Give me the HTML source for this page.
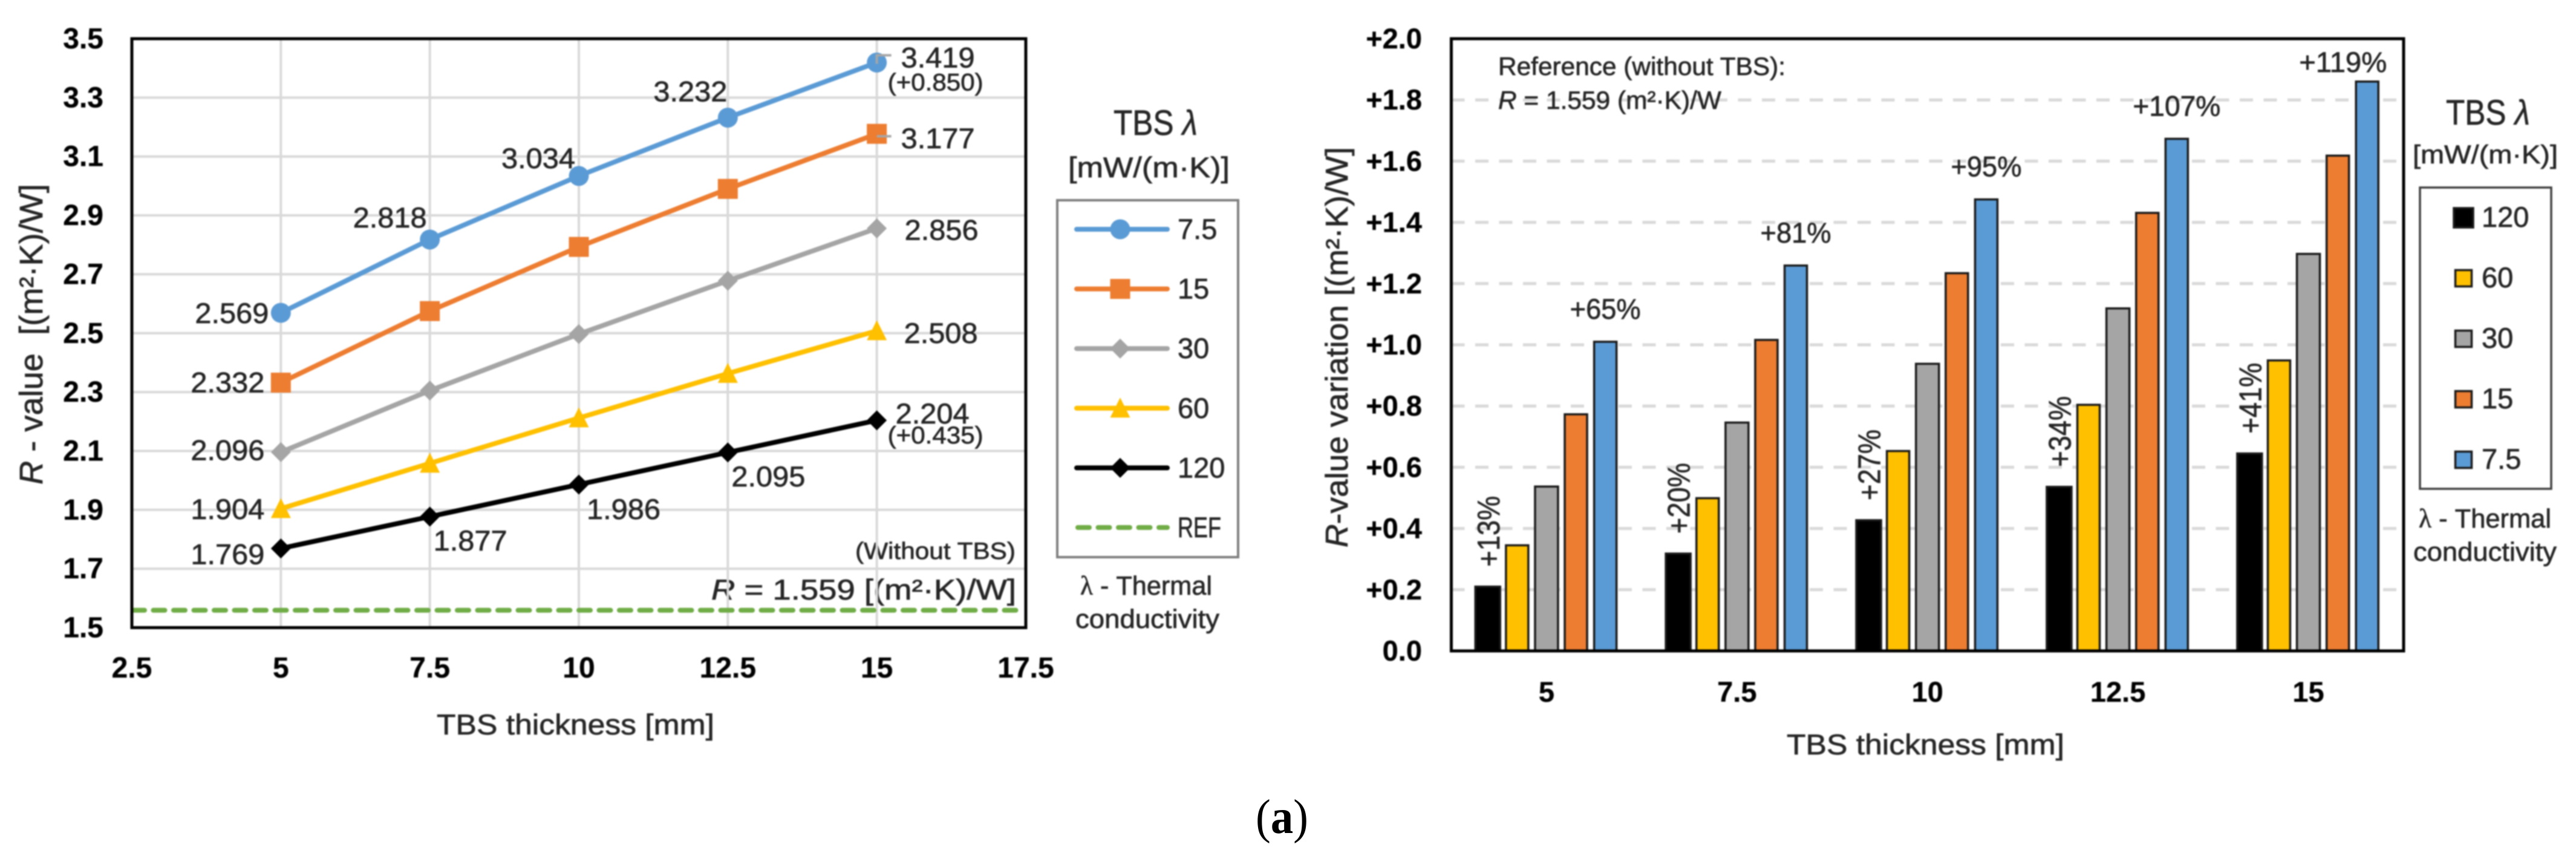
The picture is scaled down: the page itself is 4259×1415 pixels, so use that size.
<!DOCTYPE html>
<html lang="en">
<head>
<meta charset="utf-8">
<title>TBS R-value charts</title>
<style>
html,body{margin:0;padding:0;background:#fff;width:4259px;height:1415px;overflow:hidden}
svg{display:block}
text{font-family:"Liberation Sans",sans-serif;fill:#262626;stroke:#262626;stroke-width:.7px}
.b{font-weight:700;fill:#000;stroke:#000;stroke-width:.3px}
#charts{filter:blur(1px)}
</style>
</head>
<body>
<svg id="figure" xmlns="http://www.w3.org/2000/svg" width="4259" height="1415" viewBox="0 0 4259 1415">
<rect width="4259" height="1415" fill="#fff"/>
<g id="charts">
  <g id="left-chart">
    <text transform="translate(70 801) rotate(-90)" font-size="54" textLength="497" lengthAdjust="spacingAndGlyphs" xml:space="preserve"><tspan font-style="italic">R</tspan> - value  [(m²·K)/W]</text>
    <text x="722" y="1214" font-size="47" textLength="459" lengthAdjust="spacingAndGlyphs">TBS thickness [mm]</text>
    <text x="1414" y="924" font-size="39" textLength="265" lengthAdjust="spacingAndGlyphs">(Without TBS)</text>
    <text x="1176" y="991" font-size="47" textLength="504" lengthAdjust="spacingAndGlyphs"><tspan font-style="italic">R</tspan> = 1.559 [(m²·K)/W]</text>
    <text x="1841" y="223" font-size="58" textLength="139" lengthAdjust="spacingAndGlyphs">TBS <tspan font-style="italic">λ</tspan></text>
    <text x="1766" y="293" font-size="47" textLength="267" lengthAdjust="spacingAndGlyphs">[mW/(m·K)]</text>
    <text x="1786" y="983" font-size="44" textLength="218" lengthAdjust="spacingAndGlyphs"><tspan style="font-family:'Liberation Serif',serif">λ</tspan> - Thermal</text>
    <text x="1778" y="1038" font-size="44" textLength="238" lengthAdjust="spacingAndGlyphs">conductivity</text>
  </g>
  <g id="right-chart">
    <text transform="translate(2228 905) rotate(-90)" font-size="52" textLength="662" lengthAdjust="spacingAndGlyphs"><tspan font-style="italic">R</tspan>-value variation [(m²·K)/W]</text>
    <text x="2954" y="1247" font-size="47" textLength="459" lengthAdjust="spacingAndGlyphs">TBS thickness [mm]</text>
    <text x="4044" y="206" font-size="58" textLength="139" lengthAdjust="spacingAndGlyphs">TBS <tspan font-style="italic">λ</tspan></text>
    <text x="3989" y="270" font-size="43" textLength="240" lengthAdjust="spacingAndGlyphs">[mW/(m·K)]</text>
    <text x="3999" y="872" font-size="44" textLength="219" lengthAdjust="spacingAndGlyphs"><tspan style="font-family:'Liberation Serif',serif">λ</tspan> - Thermal</text>
    <text x="3990" y="927" font-size="44" textLength="237" lengthAdjust="spacingAndGlyphs">conductivity</text>
  </g>
</g>
<text x="2076" y="1377" style="font-family:'Liberation Serif',serif;fill:#000;stroke:none" font-size="80" textLength="87" lengthAdjust="spacingAndGlyphs">(<tspan font-weight="700">a</tspan>)</text>
</svg>
<script>
// ---- Left chart data ----
const thicknessLine = [5, 7.5, 10, 12.5, 15];
const seriesLambda75 = [2.569, 2.818, 3.034, 3.232, 3.419];
const seriesLambda15 = [2.332, 2.575, 2.793, 2.990, 3.177];
const seriesLambda30 = [2.096, 2.305, 2.497, 2.678, 2.856];
const seriesLambda60 = [1.904, 2.058, 2.212, 2.363, 2.508];
const seriesLambda120 = [1.769, 1.877, 1.986, 2.095, 2.204];
const referenceR = 1.559;
const deltaLabel75 = '(+0.850)';
const deltaLabel120 = '(+0.435)';
const leftYTicks = [1.5, 1.7, 1.9, 2.1, 2.3, 2.5, 2.7, 2.9, 3.1, 3.3, 3.5];
const leftXTicks = [2.5, 5, 7.5, 10, 12.5, 15, 17.5];

// ---- Right chart data ----
const thicknessCategories = ['5', '7.5', '10', '12.5', '15'];
const barsLambda120 = [0.210, 0.318, 0.427, 0.536, 0.645];
const barsLambda60 = [0.345, 0.499, 0.653, 0.804, 0.949];
const barsLambda30 = [0.537, 0.746, 0.938, 1.119, 1.297];
const barsLambda15 = [0.773, 1.016, 1.234, 1.431, 1.618];
const barsLambda75 = [1.010, 1.259, 1.475, 1.673, 1.860];
const percentLambda120 = ['+13%', '+20%', '+27%', '+34%', '+41%'];
const percentLambda75 = ['+65%', '+81%', '+95%', '+107%', '+119%'];
const rightYTicks = [0, 0.2, 0.4, 0.6, 0.8, 1.0, 1.2, 1.4, 1.6, 1.8, 2.0];
const rightYTickLabels = ['0.0', '+0.2', '+0.4', '+0.6', '+0.8', '+1.0', '+1.2', '+1.4', '+1.6', '+1.8', '+2.0'];

const NS = 'http://www.w3.org/2000/svg';
function el(tag, attrs, parent) {
  const e = document.createElementNS(NS, tag);
  for (const k in attrs) e.setAttribute(k, attrs[k]);
  parent.appendChild(e);
  return e;
}
function txt(str, attrs, parent) {
  const e = el('text', attrs, parent);
  e.textContent = str;
  return e;
}
function marker(kind, cx, cy, color, parent) {
  const r = 16.5;
  if (kind === 'circle') return el('ellipse', {cx: cx, cy: cy, rx: r, ry: r, fill: color}, parent);
  if (kind === 'square') return el('rect', {x: cx - r, y: cy - r, width: 2 * r, height: 2 * r, fill: color}, parent);
  if (kind === 'diamond') return el('polygon', {points: `${cx - r},${cy} ${cx},${cy - r} ${cx + r},${cy} ${cx},${cy + r}`, fill: color}, parent);
  return el('polygon', {points: `${cx},${cy - r - 1} ${cx + r},${cy + r - 1} ${cx - r},${cy + r - 1}`, fill: color}, parent);
}

// ===== LEFT CHART =====
const left = document.getElementById('left-chart');
const LX0 = 218, LX1 = 1696, LY0 = 1037.5, LY1 = 64;
const lx = v => LX0 + (v - 2.5) / 15 * (LX1 - LX0);
const ly = v => LY0 - (v - 1.5) / 2 * (LY0 - LY1);

leftYTicks.forEach(t => {
  if (t > 1.5 && t < 3.5) {
    const g = el('line', {x1: LX0, x2: LX1, y1: ly(t), y2: ly(t), stroke: '#d9d9d9', 'stroke-width': 4}, left);
    
    
  }
  const l = txt(t.toFixed(1), {x: 171, y: ly(t) + 16, 'font-size': 48, 'text-anchor': 'end', class: 'b'}, left);
  
  
});
leftXTicks.forEach(t => {
  if (t > 2.5 && t < 17.5) {
    const g = el('line', {x1: lx(t), x2: lx(t), y1: LY1, y2: LY0, stroke: '#d9d9d9', 'stroke-width': 4}, left);
    
    
  }
  const l = txt(String(t), {x: lx(t), y: 1120, 'font-size': 48, 'text-anchor': 'middle', class: 'b'}, left);
  
  
});

const refLine = el('line', {x1: LX0 + 2, x2: LX1 - 6, y1: ly(referenceR), y2: ly(referenceR), stroke: '#70ad47', 'stroke-width': 8, 'stroke-dasharray': '19 14.5', 'stroke-linecap': 'round'}, left);



// Label layout only: which points carry a label, and where relative to the point.
const lineSeries = [
  {key: '7.5', values: seriesLambda75, color: '#5b9bd5', kind: 'circle',
   place: [[-20, 17, 'end'], [-5, -20, 'end'], [-6, -13, 'end'], [-1, -27, 'end'], [40, 8, 'start']]},
  {key: '15', values: seriesLambda15, color: '#ed7d31', kind: 'square',
   place: [[-27, 16, 'end'], null, null, null, [40, 24, 'start']]},
  {key: '30', values: seriesLambda30, color: '#a5a5a5', kind: 'diamond',
   place: [[-27, 13, 'end'], null, null, null, [46, 19, 'start']]},
  {key: '60', values: seriesLambda60, color: '#ffc000', kind: 'triangle',
   place: [[-27, 17, 'end'], null, null, null, [45, 20, 'start']]},
  {key: '120', values: seriesLambda120, color: '#000000', kind: 'diamond',
   place: [[-27, 26, 'end'], [6, 56, 'start'], [13, 57, 'start'], [6, 56, 'start'], [31, 5, 'start']]}
];

lineSeries.forEach(s => {
  const pts = s.values.map((v, i) => `${lx(thicknessLine[i])},${ly(v)}`).join(' ');
  const line = el('polyline', {points: pts, fill: 'none', stroke: s.color, 'stroke-width': 8, 'stroke-linejoin': 'round'}, left);
  
  
  s.values.forEach((v, i) => {
    const m = marker(s.kind, lx(thicknessLine[i]), ly(v), s.color, left);
    
    
  });
});

// Leader lines of the two top labels
const lead1 = el('polyline', {points: `${lx(15)},${ly(seriesLambda75[4]) + 2} ${lx(15)},${ly(seriesLambda75[4]) - 12} ${lx(15) + 24},${ly(seriesLambda75[4]) - 12}`, fill: 'none', stroke: '#a6a6a6', 'stroke-width': 4}, left);


const lead2 = el('line', {x1: lx(15), x2: lx(15) + 24, y1: ly(seriesLambda15[4]) + 4, y2: ly(seriesLambda15[4]) + 4, stroke: '#a6a6a6', 'stroke-width': 4}, left);



lineSeries.forEach(s => {
  s.values.forEach((v, i) => {
    const p = s.place[i];
    if (!p) return;
    const l = txt(v.toFixed(3), {x: lx(thicknessLine[i]) + p[0], y: ly(v) + p[1], 'font-size': 47, 'text-anchor': p[2], textLength: 122, lengthAdjust: 'spacingAndGlyphs'}, left);
    
    
  });
});
const d75 = txt(deltaLabel75, {x: lx(15) + 18, y: ly(seriesLambda75[4]) + 46, 'font-size': 40, textLength: 158, lengthAdjust: 'spacingAndGlyphs'}, left);


const d120 = txt(deltaLabel120, {x: lx(15) + 18, y: ly(seriesLambda120[4]) + 38, 'font-size': 40, textLength: 158, lengthAdjust: 'spacingAndGlyphs'}, left);



const leftFrame = el('rect', {x: LX0, y: LY1, width: LX1 - LX0, height: LY0 - LY1, fill: 'none', stroke: '#000', 'stroke-width': 5}, left);



// Left legend
const leftLegend = el('g', {}, left);


const leftBox = el('rect', {x: 1748, y: 331, width: 299, height: 590, fill: '#fff', stroke: '#7f7f7f', 'stroke-width': 4}, leftLegend);


lineSeries.forEach((s, i) => {
  const y = 379 + i * 98.6;
  const ln = el('line', {x1: 1780, x2: 1930, y1: y, y2: y, stroke: s.color, 'stroke-width': 8, 'stroke-linecap': 'round'}, leftLegend);
  
  
  const m = marker(s.kind, 1852, y, s.color, leftLegend);
  
  
  const l = txt(s.key, {x: 1947, y: y + 16, 'font-size': 47}, leftLegend);
  
  
});
const refY = 379 + 5 * 98.6;
const refLeg = el('line', {x1: 1782, x2: 1930, y1: refY, y2: refY, stroke: '#70ad47', 'stroke-width': 8, 'stroke-dasharray': '19 14.5', 'stroke-linecap': 'round'}, leftLegend);


const refTxt = txt('REF', {x: 1947, y: refY + 16, 'font-size': 47, textLength: 72, lengthAdjust: 'spacingAndGlyphs'}, leftLegend);



// ===== RIGHT CHART =====
const right = document.getElementById('right-chart');
const RX0 = 2399.5, RX1 = 3974, RY0 = 1076, RY1 = 64;
const rGroup = i => RX0 + (RX1 - RX0) / thicknessCategories.length * (i + 0.5);
const BAR_PITCH = 48.6;
const rBar = (i, j) => rGroup(i) + (j - 2) * BAR_PITCH;
const ry = v => RY0 - v / 2 * (RY0 - RY1);

rightYTicks.forEach((t, i) => {
  if (t > 0 && t < 2) {
    const g = el('line', {x1: RX0, x2: RX1, y1: ry(t), y2: ry(t), stroke: '#d9d9d9', 'stroke-width': 5, 'stroke-dasharray': '22 17.5'}, right);
    
    
  }
  const l = txt(rightYTickLabels[i], {x: 2351, y: ry(t) + 16, 'font-size': 47, 'text-anchor': 'end', class: 'b'}, right);
  
  
});
thicknessCategories.forEach((c, i) => {
  const l = txt(c, {x: rGroup(i), y: 1160, 'font-size': 47, 'text-anchor': 'middle', class: 'b'}, right);
  
  
});

const barSeries = [
  {key: '120', values: barsLambda120, color: '#000000', width: 41},
  {key: '60', values: barsLambda60, color: '#ffc000', width: 37},
  {key: '30', values: barsLambda30, color: '#a5a5a5', width: 38},
  {key: '15', values: barsLambda15, color: '#ed7d31', width: 37},
  {key: '7.5', values: barsLambda75, color: '#5b9bd5', width: 37}
];
barSeries.forEach((s, j) => {
  s.values.forEach((v, i) => {
    const b = el('rect', {x: rBar(i, j) - s.width / 2, y: ry(v), width: s.width, height: RY0 - ry(v), fill: s.color, stroke: '#1a1a1a', 'stroke-width': 3.5}, right);
    
    
  });
});
percentLambda75.forEach((p, i) => {
  const last = i === percentLambda75.length - 1;
  const w = p.length > 4 ? 145 : 117;
  const x = rBar(i, 4) + (last ? -40 : 0);
  const y = ry(barsLambda75[i]) - (last ? 16 : 38);
  const l = txt(p, {x: x, y: y, 'font-size': 47, 'text-anchor': 'middle', textLength: w, lengthAdjust: 'spacingAndGlyphs'}, right);
  
  
});
percentLambda120.forEach((p, i) => {
  const x = rBar(i, 0) + 19;
  const y = ry(barsLambda120[i]) - 33;
  const l = txt(p, {transform: `translate(${x} ${y}) rotate(-90)`, 'font-size': 52, textLength: 117, lengthAdjust: 'spacingAndGlyphs'}, right);
  
  
});
const rightFrame = el('rect', {x: RX0, y: RY1, width: RX1 - RX0, height: RY0 - RY1, fill: 'none', stroke: '#000', 'stroke-width': 5}, right);



// Reference note
const note1 = txt('Reference (without TBS):', {x: 2477, y: 124, 'font-size': 42, textLength: 475, lengthAdjust: 'spacingAndGlyphs'}, right);


const note2 = txt('', {x: 2477, y: 180, 'font-size': 42, textLength: 369, lengthAdjust: 'spacingAndGlyphs'}, right);


const noteR = el('tspan', {'font-style': 'italic'}, note2);
noteR.textContent = 'R';
note2.appendChild(document.createTextNode(' = ' + referenceR + ' (m²·K)/W'));

// Right legend
const rightLegend = el('g', {}, right);


const rightBox = el('rect', {x: 4001, y: 310, width: 217, height: 498, fill: '#fff', stroke: '#404040', 'stroke-width': 3.5}, rightLegend);


barSeries.forEach((s, i) => {
  const y = 360 + i * 100;
  const r = i === 0 ? 16 : 13.5;
  const sw = el('rect', {x: 4073 - r, y: y - r, width: 2 * r, height: 2 * r, fill: s.color, stroke: '#1a1a1a', 'stroke-width': 3.5}, rightLegend);
  
  
  const l = txt(s.key, {x: 4103, y: y + 15, 'font-size': 47}, rightLegend);
  
  
});
</script>
</body>
</html>
